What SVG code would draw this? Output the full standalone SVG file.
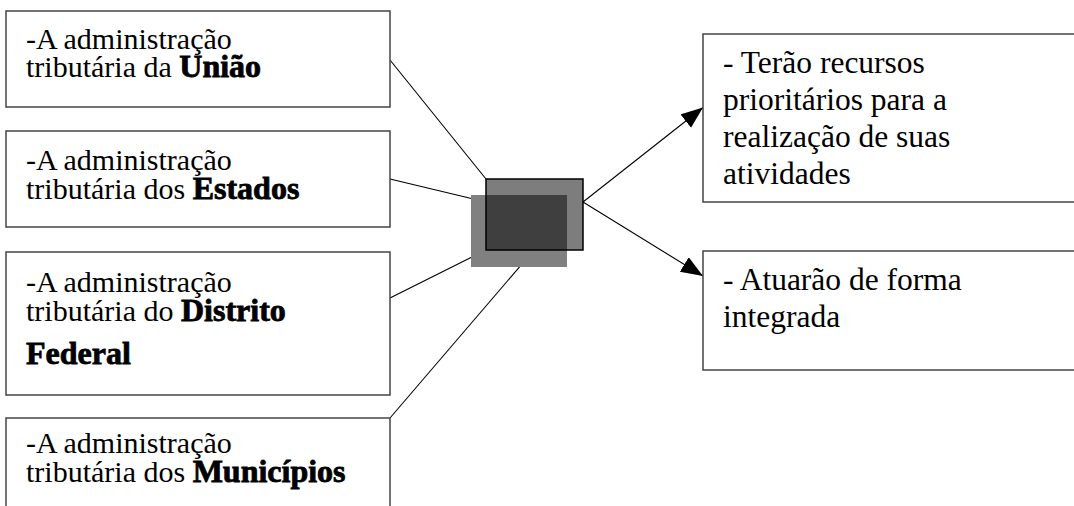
<svg xmlns="http://www.w3.org/2000/svg" width="1074" height="506" viewBox="0 0 1074 506">
<style>
.box{fill:#fff;stroke:#444;stroke-width:1.5}
.t{font-family:"Liberation Serif","Times New Roman",serif;font-size:30px;fill:#000}
.tr{font-family:"Liberation Serif","Times New Roman",serif;font-size:31.5px;fill:#000}
.b{font-weight:bold;font-size:32px;stroke:#000;stroke-width:0.8}
.ln{stroke:#000;stroke-width:1.1;fill:none}
</style>
<defs>
<marker id="ah" markerUnits="userSpaceOnUse" markerWidth="24" markerHeight="19" refX="22" refY="8.5" orient="auto">
<path d="M0,0 L22,8.5 L0,17 z" fill="#000"/>
</marker>
</defs>
<rect width="1074" height="506" fill="#fff"/>
<g id="connectors">
<line class="ln" x1="390" y1="60" x2="486" y2="179"/>
<line class="ln" x1="390" y1="179" x2="486" y2="202"/>
<line class="ln" x1="390" y1="298" x2="486" y2="250"/>
<line class="ln" x1="390" y1="418" x2="534" y2="250"/>
<line class="ln" x1="583" y1="202" x2="703" y2="107.5" marker-end="url(#ah)"/>
<line class="ln" x1="583" y1="202" x2="703" y2="276" marker-end="url(#ah)"/>
</g>
<g id="hub">
<rect x="471" y="195" width="96" height="72" fill="#808080"/>
<rect x="486" y="179" width="97" height="71" fill="#000" fill-opacity="0.51" stroke="#000" stroke-width="1.5"/>
</g>
<g id="uniao">
<rect class="box" x="6" y="11" width="384" height="96"/>
<text class="t" x="26" y="49">-A administração</text>
<text class="t" x="26" y="77">tributária da <tspan class="b">União</tspan></text>
</g>
<g id="estados">
<rect class="box" x="6" y="131" width="384" height="96"/>
<text class="t" x="26" y="170">-A administração</text>
<text class="t" x="26" y="199">tributária dos <tspan class="b">Estados</tspan></text>
</g>
<g id="df">
<rect class="box" x="6" y="252" width="384" height="143"/>
<text class="t" x="26" y="292">-A administração</text>
<text class="t" x="26" y="321">tributária do <tspan class="b">Distrito</tspan></text>
<text class="t b" x="26" y="364">Federal</text>
</g>
<g id="municipios">
<rect class="box" x="6" y="418" width="384" height="100"/>
<text class="t" x="26" y="453">-A administração</text>
<text class="t" x="26" y="482">tributária dos <tspan class="b">Municípios</tspan></text>
</g>
<g id="recursos">
<rect class="box" x="703" y="34" width="400" height="168"/>
<text class="tr" x="723" y="73">- Terão recursos</text>
<text class="tr" x="723" y="110">prioritários para a</text>
<text class="tr" x="723" y="147">realização de suas</text>
<text class="tr" x="723" y="184">atividades</text>
</g>
<g id="integrada">
<rect class="box" x="703" y="251" width="400" height="119"/>
<text class="tr" x="723" y="290">- Atuarão de forma</text>
<text class="tr" x="723" y="327">integrada</text>
</g>
</svg>
